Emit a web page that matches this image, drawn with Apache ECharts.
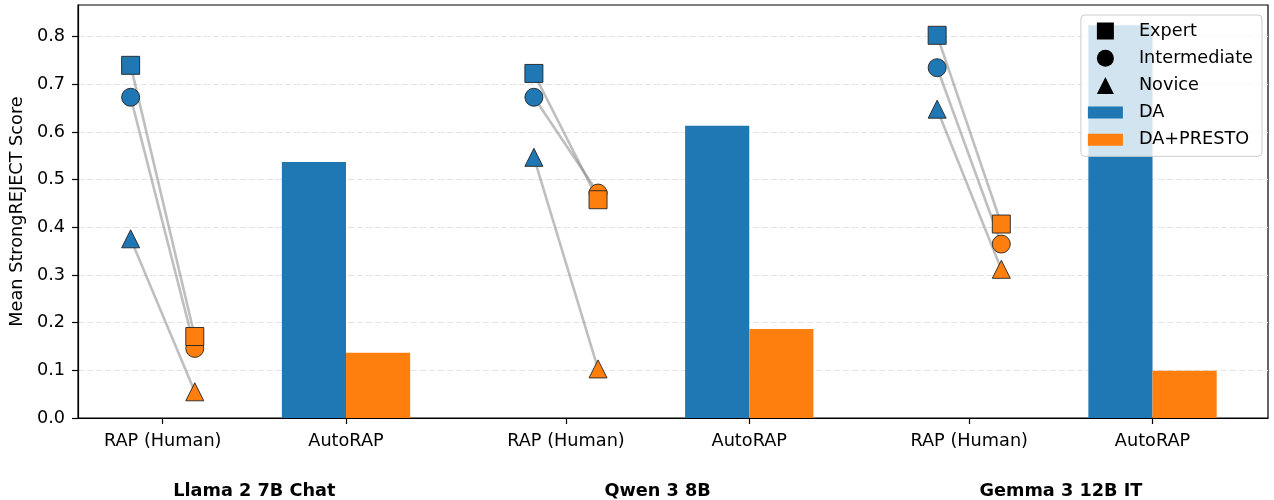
<!DOCTYPE html>
<html>
<head>
<meta charset="utf-8">
<title>Mean StrongREJECT Score</title>
<script src="https://cdn.jsdelivr.net/npm/echarts@6/dist/echarts.min.js"></script>
<style>
  html, body { margin: 0; padding: 0; background: #fff; }
  #chart { width: 1274px; height: 500px; }
</style>
</head>
<body>
<div id="chart"></div>
<script>
  // models and x-axis labels
  const models = ['Llama 2 7B Chat', 'Qwen 3 8B', 'Gemma 3 12B IT'];
  const subLabels = ['RAP (Human)', 'AutoRAP'];
  const groupStarts = [0, 2.2, 4.4];

  // RAP (Human) per expertise level
  const daExpert = [0.740, 0.723, 0.803];
  const daIntermediate = [0.673, 0.673, 0.735];
  const daNovice = [0.376, 0.547, 0.648];
  const prestoExpert = [0.171, 0.458, 0.407];
  const prestoIntermediate = [0.146, 0.472, 0.365];
  const prestoNovice = [0.055, 0.103, 0.312];

  // AutoRAP bars
  const autoDA = [0.537, 0.613, 0.824];
  const autoPresto = [0.137, 0.187, 0.099];

  const yTicks = [0, 0.1, 0.2, 0.3, 0.4, 0.5, 0.6, 0.7, 0.8];

  const BLUE = '#1f77b4';
  const ORANGE = '#ff7f0e';
  const FONT = 'DejaVu Sans';
  const FS = 17.7;
  const OFF = 0.175;
  const BAR_W = 0.35;

  const tickPos = [];
  const tickText = [];
  groupStarts.forEach(g => {
    tickPos.push(g, g + 1);
    tickText.push(subLabels[0], subLabels[1]);
  });
  const groupCenters = groupStarts.map(g => g + 0.5);

  function nearestIdx(arr, v) {
    let best = 0;
    arr.forEach((a, i) => { if (Math.abs(a - v) < Math.abs(arr[best] - v)) best = i; });
    return best;
  }

  function levelSeries(name, daVals, prVals, symbol, z) {
    const data = [];
    groupStarts.forEach((g, i) => {
      data.push({ value: [g - OFF, daVals[i]], itemStyle: { color: BLUE } });
      data.push({ value: [g + OFF, prVals[i]], itemStyle: { color: ORANGE } });
    });
    return {
      name,
      type: 'scatter',
      symbol,
      symbolSize: 18,
      z,
      data,
      itemStyle: { borderColor: '#222', borderWidth: 0.9, opacity: 1 },
      emphasis: { disabled: true },
    };
  }

  const connectorData = [];
  [[daExpert, prestoExpert], [daIntermediate, prestoIntermediate], [daNovice, prestoNovice]].forEach(([a, b]) => {
    groupStarts.forEach((g, i) => {
      connectorData.push([g - OFF, a[i], g + OFF, b[i]]);
    });
  });

  function barSeries(name, vals, left, color) {
    return {
      name,
      type: 'custom',
      z: 1,
      data: groupStarts.map((g, i) => [g + 1 + (left ? -BAR_W / 2 : BAR_W / 2), vals[i]]),
      renderItem: (params, api) => {
        const top = api.coord([api.value(0), api.value(1)]);
        const base = api.coord([api.value(0), 0]);
        const w = api.size([BAR_W, 0])[0];
        return {
          type: 'rect',
          shape: { x: top[0] - w / 2, y: top[1], width: w, height: base[1] - top[1] },
          style: { fill: color },
        };
      },
      itemStyle: { color },
    };
  }

  const chart = echarts.init(document.getElementById('chart'), null, { renderer: 'canvas' });

  const option = {
    animation: false,
    textStyle: { fontFamily: FONT },
    grid: {
      left: 78, right: 6, top: 5, bottom: 82,
      show: true, borderColor: '#000', borderWidth: 1.2, backgroundColor: 'transparent',
    },
    legend: {
      orient: 'vertical',
      right: 12,
      top: 15,
      padding: [7, 9, 7.5, 7],
      itemGap: 9.2,
      itemWidth: 35,
      itemHeight: 17,
      backgroundColor: 'rgba(255,255,255,0.8)',
      borderColor: '#cccccc',
      borderWidth: 1,
      borderRadius: 4,
      selectedMode: false,
      textStyle: { fontFamily: FONT, fontSize: FS, color: '#000', padding: [0, 0, 0, 11] },
      data: [
        { name: 'Expert', icon: 'path://M0,0L1,0L1,1L0,1Z', itemStyle: { color: '#000', borderWidth: 0 } },
        { name: 'Intermediate', icon: 'circle', itemStyle: { color: '#000', borderWidth: 0 } },
        { name: 'Novice', icon: 'path://M0.5,0L1,1L0,1Z', itemStyle: { color: '#000', borderWidth: 0 } },
        { name: 'DA', icon: 'path://M0,0L35,0L35,12L0,12Z', itemStyle: { color: BLUE } },
        { name: 'DA+PRESTO', icon: 'path://M0,0L35,0L35,12L0,12Z', itemStyle: { color: ORANGE } },
      ],
    },
    xAxis: [
      {
        type: 'value',
        min: -0.462,
        max: 6.03,
        position: 'bottom',
        axisLine: { show: true, onZero: false, lineStyle: { color: '#000', width: 1.2 } },
        axisTick: { show: true, length: 6, customValues: tickPos, lineStyle: { color: '#000', width: 1.2 } },
        axisLabel: {
          customValues: tickPos,
          margin: 14,
          fontSize: FS,
          fontFamily: FONT,
          color: '#000',
          formatter: v => tickText[nearestIdx(tickPos, v)],
        },
        splitLine: { show: false },
      },
      {
        type: 'value',
        min: -0.462,
        max: 6.03,
        position: 'bottom',
        axisLine: { show: false },
        axisTick: { show: false },
        axisLabel: {
          customValues: groupCenters,
          margin: 64,
          fontSize: FS,
          fontWeight: 'bold',
          fontFamily: FONT,
          color: '#000',
          formatter: v => models[nearestIdx(groupCenters, v)],
        },
        splitLine: { show: false },
      },
    ],
    yAxis: {
      type: 'value',
      min: 0,
      max: 0.8666,
      interval: 0.1,
      name: 'Mean StrongREJECT Score',
      nameLocation: 'middle',
      nameGap: 50,
      nameTextStyle: { fontSize: FS, fontFamily: FONT, color: '#000' },
      axisLine: { show: true, onZero: false, lineStyle: { color: '#000', width: 1.2 } },
      axisTick: { show: true, length: 6, customValues: yTicks, lineStyle: { color: '#000', width: 1.2 } },
      axisLabel: {
        customValues: yTicks,
        margin: 13,
        fontSize: FS,
        fontFamily: FONT,
        color: '#000',
        formatter: v => v.toFixed(1),
      },
      splitLine: { show: true, lineStyle: { color: '#e3e3e3', type: [6, 3], width: 1 } },
    },
    series: [
      barSeries('DA', autoDA, true, BLUE),
      barSeries('DA+PRESTO', autoPresto, false, ORANGE),
      {
        name: 'connectors',
        type: 'custom',
        z: 2,
        data: connectorData,
        renderItem: (params, api) => {
          const p1 = api.coord([api.value(0), api.value(1)]);
          const p2 = api.coord([api.value(2), api.value(3)]);
          return {
            type: 'line',
            shape: { x1: p1[0], y1: p1[1], x2: p2[0], y2: p2[1] },
            style: { stroke: 'rgba(128,128,128,0.5)', lineWidth: 2.6 },
          };
        },
      },
      levelSeries('Novice', daNovice, prestoNovice, 'triangle', 3),
      levelSeries('Intermediate', daIntermediate, prestoIntermediate, 'circle', 4),
      levelSeries('Expert', daExpert, prestoExpert, 'rect', 5),
    ],
  };

  chart.setOption(option);
</script>
</body>
</html>
